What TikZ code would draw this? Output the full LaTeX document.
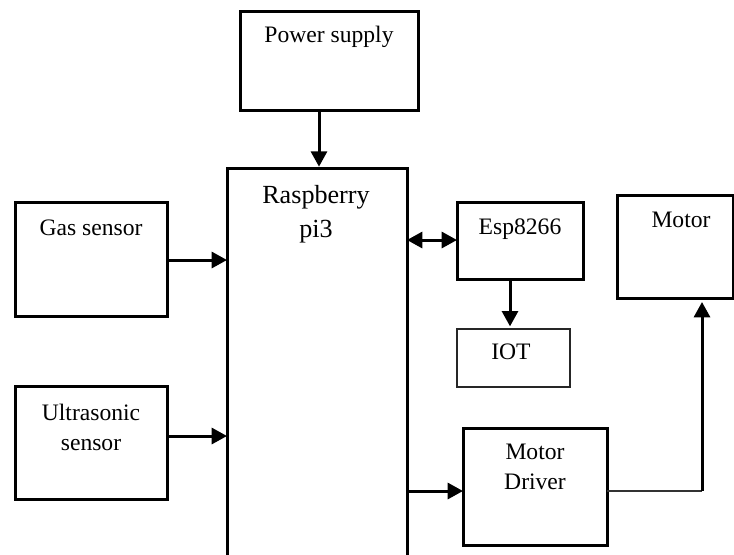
\documentclass[tikz,border=0pt]{standalone}
\usepackage{fontspec}
\setmainfont{Liberation Serif}
\usetikzlibrary{arrows.meta}
\tikzset{
  blockbox/.style={draw=black,line width=2.25pt,minimum width=#1,inner sep=0pt,outer sep=0pt},
  thinbox/.style={draw=black!85,line width=1.2pt,inner sep=0pt,outer sep=0pt},
  lab/.style={font=\fontsize{17.7pt}{22.5pt}\selectfont,align=center,inner sep=0pt,text=black},
  biglab/.style={font=\fontsize{19.6pt}{25.5pt}\selectfont,align=center,inner sep=0pt,text=black},
  conn/.style={line width=2.25pt,-{Triangle[length=11.5pt,width=12pt]}},
  conntwo/.style={line width=2.25pt,{Triangle[length=11.5pt,width=12pt]}-{Triangle[length=11.5pt,width=12pt]}},
  wire/.style={line width=1.7pt,draw=black!80},
  wirethick/.style={line width=2.25pt}
}
\begin{document}
\begin{tikzpicture}[x=0.75pt,y=-0.75pt]
\clip (0,0) rectangle (734,554);
\node[blockbox=133.5pt,minimum height=74.25pt] (power) at (329,60.5) {};
\node[blockbox=135pt,minimum height=300pt] (pi) at (317,368) {};
\node[blockbox=114pt,minimum height=85.5pt] (gas) at (91,259) {};
\node[blockbox=114pt,minimum height=84.75pt] (ultra) at (91,442.5) {};
\node[blockbox=94.5pt,minimum height=57.75pt] (esp) at (520,240.5) {};
\node[thinbox,minimum width=85pt,minimum height=43.5pt] (iot) at (513.5,358) {};
\node[blockbox=87pt,minimum height=77.25pt] (motor) at (675,246.5) {};
\node[blockbox=108pt,minimum height=87.75pt] (driver) at (535,486.5) {};

\node[lab] (powertext) at (329,37) {Power supply};
\node[biglab] (pitext) at (316,214) {Raspberry\\pi3};
\node[lab] (gastext) at (91,228) {Gas sensor};
\node[lab] (ultratext) at (91,427) {Ultrasonic\\sensor};
\node[lab] (esptext) at (520,229) {Esp8266};
\node[lab] (iottext) at (511,352) {IOT};
\node[lab] (motortext) at (681,220) {Motor};
\node[lab] (drivertext) at (535,467) {Motor\\Driver};

\coordinate (xpower) at (319,0);
\coordinate (rowgas) at (0,260);
\coordinate (rowultra) at (0,436);
\coordinate (rowesp) at (0,240);
\coordinate (xesp) at (510,0);
\coordinate (rowdriver) at (0,491);
\coordinate (bend) at (702,491);

\draw[conn] (power.south -| xpower) -- ([yshift=1pt]pi.north -| xpower);
\draw[conn] (gas.east |- rowgas) -- (pi.west |- rowgas);
\draw[conn] (ultra.east |- rowultra) -- (pi.west |- rowultra);
\draw[conntwo] (pi.east |- rowesp) -- (esp.west |- rowesp);
\draw[conn] (esp.south -| xesp) -- ([yshift=2pt]iot.north -| xesp);
\draw[conn] (pi.east |- rowdriver) -- (driver.west |- rowdriver);
\draw[wire] (driver.east |- rowdriver) -- (bend);
\draw[wirethick,-{Triangle[length=11.5pt,width=12pt]}] (bend) -- ([yshift=-3pt]motor.south -| bend);
\end{tikzpicture}
\end{document}
